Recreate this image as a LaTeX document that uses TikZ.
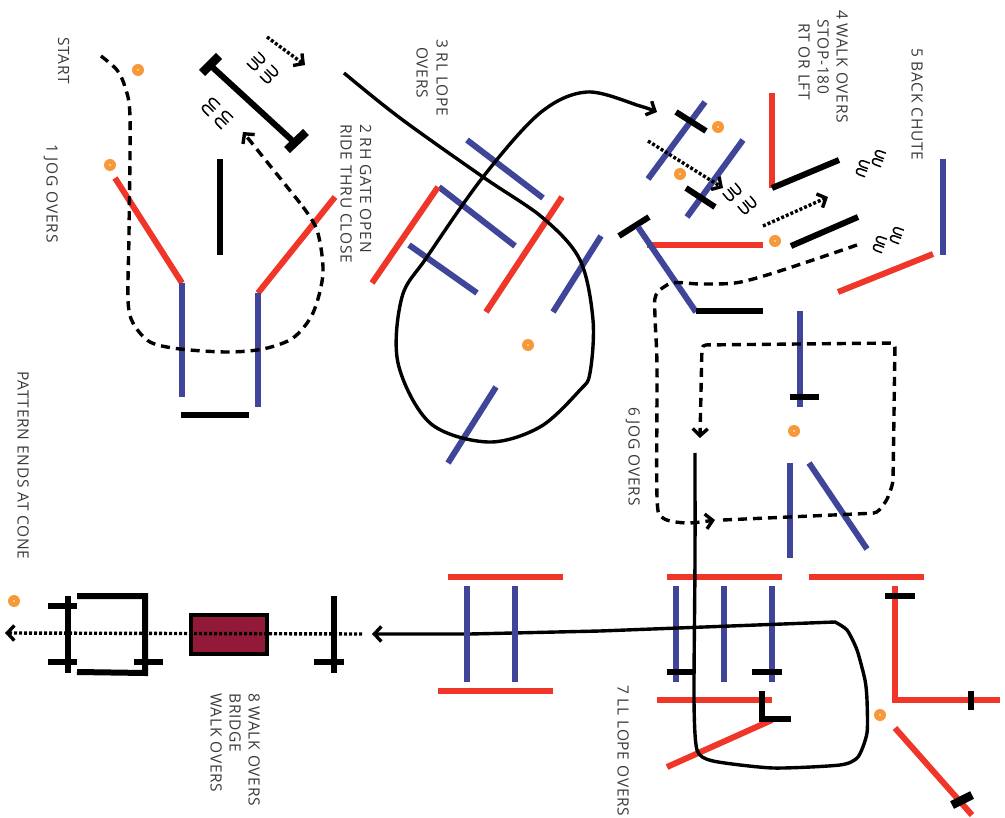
\documentclass[tikz,border=0pt]{standalone}
\usepackage{fontspec}
\setmainfont{Open Sans}[LetterSpace=5]
\usetikzlibrary{arrows.meta}
\definecolor{cred}{HTML}{EF3629}
\definecolor{cblue}{HTML}{3F4599}
\definecolor{cone}{HTML}{F79839}
\definecolor{bridge}{HTML}{921A38}
\definecolor{txt}{HTML}{3A3A3A}
\tikzset{
  redbar/.style={draw=cred,line width=6pt},
  bluebar/.style={draw=cblue,line width=6pt},
  blackbar/.style={draw=black,line width=6pt},
  solidpath/.style={draw=black,line width=3.4pt,line join=round},
  dashpath/.style={draw=black,line width=3.4pt,dash pattern=on 9pt off 6pt},
  dotpath/.style={draw=black,line width=3.4pt,dash pattern=on 3pt off 2pt},
  barb/.style={-{Straight Barb[length=7pt,width=15pt,line width=3.4pt]}},
  lbl/.style={rotate=-90,anchor=west,inner sep=0pt,text height=9pt,text depth=0pt,text=txt,font=\fontsize{15.5}{18}\selectfont},
  conedot/.style={circle,fill=cone,minimum size=12pt,inner sep=0pt,path picture={\fill[white] (path picture bounding box.center) circle (0.9pt);}},
  hoofline/.style={draw=black,line width=1.5pt,line cap=round}
}
\newcommand{\hoofpair}[4]{%
  \begin{scope}[shift={(#1,#2)},rotate=#3,scale=#4]
    \draw[hoofline] (-8,-6) -- (-8,1) .. controls (-8,6) and (-1.5,6) .. (-1.5,1) -- (-1.5,-6);
    \draw[hoofline] (1.5,-6) -- (1.5,1) .. controls (1.5,6) and (8,6) .. (8,1) -- (8,-6);
  \end{scope}}
\begin{document}
\begin{tikzpicture}[x=1pt,y=-1pt]
\useasboundingbox (0,0) rectangle (1005,818);
% section 1
\draw[redbar] (115,178) -- (182,283);
\draw[bluebar] (182,283) -- (182,397);
\draw[redbar] (335,197) -- (258,293);
\draw[bluebar] (258,293) -- (258,407);
\draw[blackbar] (181,415) -- (249,415);
\draw[blackbar] (220,159) -- (220,255);
\draw[blackbar] (210,65) -- (295,143);
\draw[black,line width=8.5pt] (202,73) -- (219,56);
\draw[black,line width=8.5pt] (287,150) -- (306,132);
\hoofpair{257}{62}{45}{1}
\hoofpair{270}{75}{45}{1}
\hoofpair{210}{106}{225}{1}
\hoofpair{223}{119}{225}{1}
\draw[dashpath] plot[smooth,tension=.5] coordinates {(101,56) (117,70) (125,87) (130,117) (129,233) (128,300) (133,323) (150,342) (180,349) (227,352) (263,349) (293,338) (313,313) (323,273) (317,230) (300,203)} ;
\draw[dashpath,barb] (300,203) -- (243,132);
\draw[dotpath,barb] (267,37) -- (305,65);
% section 3
\draw[bluebar] (467,140) -- (543,198);
\draw[bluebar] (439,187) -- (515,246);
\draw[bluebar] (409,245) -- (477,293);
\draw[redbar] (438,187) -- (372,283);
\draw[redbar] (562,197) -- (486,312);
\draw[bluebar] (601,236) -- (553,312);
\draw[bluebar] (496,387) -- (448,463);
\draw[solidpath,barb] plot[smooth,tension=.55] coordinates {(344,73) (400,118) (483,177) (543,218) (580,260) (593,320) (590,373) (580,390) (540,427) (488,442) (430,423) (398,363) (402,297) (427,257) (483,177) (540,113) (587,92) (640,106) (657,112)};
% section 4
\draw[bluebar] (705,102) -- (648,179);
\draw[blackbar] (676,112) -- (706,131);
\draw[bluebar] (743,140) -- (687,217);
\draw[blackbar] (686,188) -- (715,207);
\draw[dotpath,barb] (648,141) -- (723,188);
\hoofpair{733}{193}{40}{1}
\hoofpair{748}{206}{40}{1}
\draw[redbar] (772,93) -- (772,188);
\draw[blackbar] (772,188) -- (839,160);
\hoofpair{878}{158}{250}{.9}
\hoofpair{862}{168}{250}{.9}
\draw[dotpath,barb] (763,226) -- (828,197);
\draw[blackbar] (791,246) -- (858,217);
\hoofpair{896}{235}{250}{.9}
\hoofpair{879}{244}{250}{.9}
\draw[redbar] (647,245) -- (763,245);
\draw[blackbar] (619,236) -- (649,217);
\draw[bluebar] (638,227) -- (696,312);
\draw[blackbar] (696,311) -- (763,311);
% section 5, 6
\draw[bluebar] (943,159) -- (943,255);
\draw[redbar] (933,254) -- (838,292);
\draw[bluebar] (800,311) -- (800,407);
\draw[blackbar] (790,397) -- (819,397);
\draw[bluebar] (790,463) -- (790,558);
\draw[bluebar] (809,463) -- (867,549);
\draw[dashpath,barb] plot[smooth,tension=.5] coordinates {(857,245) (813,260) (767,275) (735,283) (700,284) (672,283) (656,295) (655,317) (657,367) (657,497) (663,518) (687,523) (715,520)};
\draw[dashpath,barb,rounded corners=4pt] (723,520) -- (877,513) -- (887,500) -- (893,483) -- (895,343) -- (702,345) -- (700,438);
% section 7
\draw[redbar] (667,577) -- (782,577);
\draw[redbar] (809,577) -- (924,577);
\draw[bluebar] (676,586) -- (676,682);
\draw[bluebar] (724,586) -- (724,682);
\draw[bluebar] (772,586) -- (772,682);
\draw[blackbar] (667,672) -- (695,672);
\draw[blackbar] (752,672) -- (782,672);
\draw[redbar] (657,700) -- (772,700);
\draw[redbar] (772,720) -- (667,767);
\draw[blackbar,line cap=butt,line join=miter] (762,691) -- (762,719) -- (791,719);
\draw[redbar,line join=miter] (895,586) -- (895,700) -- (1000,700);
\draw[blackbar] (885,596) -- (915,596);
\draw[blackbar] (971,691) -- (971,710);
\draw[redbar] (895,728) -- (972,815);
\draw[black,line width=8.5pt] (952,805) -- (972,795);
\draw[solidpath,barb] plot[smooth,tension=.4] coordinates {(695,453) (695,560) (694,700) (697,750) (713,761) (773,768) (840,765) (858,757) (867,733) (867,700) (865,680) (857,650) (847,630) (835,622)} -- (600,631) -- (470,634) -- (372,634);
% bridge
\draw[redbar] (448,577) -- (563,577);
\draw[bluebar] (467,586) -- (467,682);
\draw[bluebar] (515,586) -- (515,682);
\draw[redbar] (438,691) -- (553,691);
% section 8
\draw[blackbar] (334,596) -- (334,673);
\draw[blackbar] (314,662) -- (344,662);
\draw[draw=black,line width=4pt,fill=bridge] (191,615) rectangle (267,654);
\draw[blackbar,line join=miter] (77,596) -- (145,596) -- (145,673) -- (77,672);
\draw[blackbar] (68,596) -- (68,673);
\draw[blackbar] (48,606) -- (77,606);
\draw[blackbar] (48,662) -- (77,662);
\draw[blackbar] (134,662) -- (163,662);
\draw[dotpath,barb] (362,634) -- (5,633);
% cones
\node[conedot] (c1) at (138,70) {};
\node[conedot] (c2) at (110,165) {};
\node[conedot] (c3) at (718,127) {};
\node[conedot] (c4) at (680,174) {};
\node[conedot] (c5) at (775,241) {};
\node[conedot] (c6) at (528,345) {};
\node[conedot] (c7) at (794,431) {};
\node[conedot] (c8) at (14,601) {};
\node[conedot] (c9) at (880,715) {};
% labels
\node[lbl] (l1) at (62.5,37) {START};
\node[lbl] (l2) at (51,144) {1 JOG OVERS};
\node[lbl] (l3) at (364.5,124) {2 RH GATE OPEN};
\node[lbl] (l4) at (345,124) {RIDE THRU CLOSE};
\node[lbl] (l5) at (441,39) {3 RL LOPE};
\node[lbl] (l6) at (421,47) {OVERS};
\node[lbl] (l7) at (841,10) {4 WALK OVERS};
\node[lbl] (l8) at (822,19) {STOP-180};
\node[lbl] (l9) at (803,23) {RT OR LFT};
\node[lbl] (l10) at (916,48) {5 BACK CHUTE};
\node[lbl] (l11) at (633,407) {6 JOG OVERS};
\node[lbl] (l12) at (622,685) {7 LL LOPE OVERS};
\node[lbl] (l13) at (253,693) {8 WALK OVERS};
\node[lbl] (l14) at (234,693) {BRIDGE};
\node[lbl] (l15) at (215,693) {WALK OVERS};
\node[lbl] (l16) at (22,371) {PATTERN ENDS AT CONE};
\end{tikzpicture}
\end{document}
